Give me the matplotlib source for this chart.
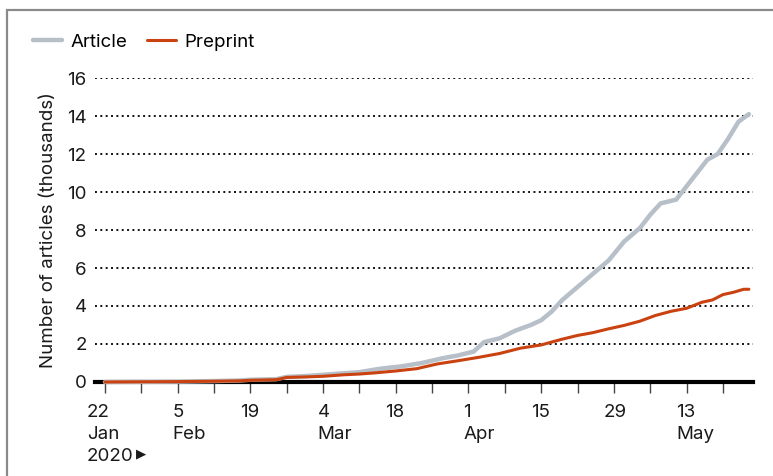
import datetime as dt

import matplotlib
matplotlib.use("Agg")
import matplotlib.pyplot as plt
import matplotlib.dates as mdates
from matplotlib.patches import Rectangle

plt.rcParams['font.family'] = ['Inter', 'DejaVu Sans']
plt.rcParams['font.size'] = 13.5

# cumulative counts (thousands)
article_dates = ['2020-01-22', '2020-01-29', '2020-02-05', '2020-02-12', '2020-02-17',
                 '2020-02-19', '2020-02-24', '2020-02-26', '2020-03-01', '2020-03-04',
                 '2020-03-08', '2020-03-11', '2020-03-15', '2020-03-19', '2020-03-23',
                 '2020-03-27', '2020-03-30', '2020-04-02', '2020-04-04', '2020-04-07',
                 '2020-04-10', '2020-04-13', '2020-04-15', '2020-04-17', '2020-04-19',
                 '2020-04-22', '2020-04-25', '2020-04-28', '2020-05-01', '2020-05-04',
                 '2020-05-06', '2020-05-08', '2020-05-11', '2020-05-13', '2020-05-15',
                 '2020-05-17', '2020-05-19', '2020-05-21', '2020-05-23', '2020-05-25']
article_vals = [0.00, 0.01, 0.02, 0.05, 0.08, 0.12, 0.15, 0.27, 0.32, 0.38,
                0.46, 0.52, 0.70, 0.82, 1.00, 1.25, 1.40, 1.60, 2.10, 2.30,
                2.70, 3.00, 3.25, 3.70, 4.30, 5.00, 5.70, 6.40, 7.40, 8.10,
                8.80, 9.40, 9.60, 10.30, 11.00, 11.70, 12.00, 12.80, 13.70, 14.10]

preprint_dates = ['2020-01-22', '2020-01-29', '2020-02-05', '2020-02-12', '2020-02-17',
                  '2020-02-19', '2020-02-24', '2020-02-26', '2020-03-01', '2020-03-04',
                  '2020-03-08', '2020-03-11', '2020-03-14', '2020-03-18', '2020-03-22',
                  '2020-03-26', '2020-03-30', '2020-04-03', '2020-04-07', '2020-04-11',
                  '2020-04-15', '2020-04-19', '2020-04-22', '2020-04-25', '2020-04-28',
                  '2020-05-01', '2020-05-04', '2020-05-07', '2020-05-10', '2020-05-13',
                  '2020-05-16', '2020-05-18', '2020-05-20', '2020-05-22', '2020-05-24',
                  '2020-05-25']
preprint_vals = [0.00, 0.01, 0.02, 0.04, 0.06, 0.09, 0.12, 0.24, 0.27, 0.30,
                 0.38, 0.42, 0.48, 0.58, 0.70, 0.95, 1.12, 1.30, 1.50, 1.78,
                 1.95, 2.25, 2.45, 2.60, 2.80, 2.98, 3.20, 3.50, 3.72, 3.88,
                 4.20, 4.32, 4.60, 4.72, 4.88, 4.88]

tick_labels = {'2020-01-22': '22\nJan\n2020', '2020-02-05': '5\nFeb',
               '2020-02-19': '19', '2020-03-04': '4\nMar', '2020-03-18': '18',
               '2020-04-01': '1\nApr', '2020-04-15': '15', '2020-04-29': '29',
               '2020-05-13': '13\nMay'}

ARTICLE_C = '#b7bfc8'
PREPRINT_C = '#c9420f'
TEXT_C = '#1a1a1a'

W, H = 773, 476
fig = plt.figure(figsize=(W / 100, H / 100), dpi=100)
ax = fig.add_axes([95 / W, 1 - 382 / H, (753 - 95) / W, (382 - 78) / H])

a_x = [dt.datetime.strptime(d, '%Y-%m-%d') for d in article_dates]
p_x = [dt.datetime.strptime(d, '%Y-%m-%d') for d in preprint_dates]

ax.plot(a_x, article_vals, color=ARTICLE_C, lw=3.2, solid_capstyle='round',
        label='Article', zorder=3, clip_on=False)
ax.plot(p_x, preprint_vals, color=PREPRINT_C, lw=2.2, solid_capstyle='round',
        label='Preprint', zorder=4, clip_on=False)

ax.set_xlim(dt.datetime(2020, 1, 20, 2), dt.datetime(2020, 5, 25, 19))
ax.set_ylim(0, 16)

for v in range(2, 17, 2):
    ax.axhline(v, color='#111111', lw=1.4, ls=(0, (1, 1.75)), zorder=1)

for s in ['top', 'right', 'left']:
    ax.spines[s].set_visible(False)
ax.spines['bottom'].set_linewidth(3)
ax.spines['bottom'].set_color('black')
ax.spines['bottom'].set_zorder(2)

ax.set_yticks(range(0, 17, 2))
ax.tick_params(axis='y', length=0, pad=6, labelsize=13.5, labelcolor=TEXT_C)

weekly = mdates.drange(dt.datetime(2020, 1, 22), dt.datetime(2020, 5, 21), dt.timedelta(days=7))
ax.set_xticks(weekly)
ax.set_xticklabels([])
ax.tick_params(axis='x', direction='out', length=8, width=1, color='#444444')

for d, lab in tick_labels.items():
    x = dt.datetime.strptime(d, '%Y-%m-%d')
    day = lab.split('\n')[0]
    dx = -13 if d == '2020-01-22' else -3.8 * len(day)
    t = ax.annotate(lab, xy=(x, 0), xycoords=('data', 'axes fraction'),
                    xytext=(dx, -15.5), textcoords='offset points',
                    ha='left', va='top', fontsize=13.5, color=TEXT_C,
                    linespacing=1.4)
    if d == '2020-01-22':
        # small arrow after the year
        ax.annotate('\u25b6', xy=(1, 0), xycoords=t, xytext=(2, 3.5),
                    textcoords='offset points', ha='left', va='bottom',
                    fontsize=9.5, color=TEXT_C, family='DejaVu Sans')

ax.set_ylabel('Number of articles (thousands)', fontsize=13.5, color=TEXT_C, labelpad=7)

ax.legend(loc='center left', bbox_to_anchor=(33 / W, 1 - 42 / H),
          bbox_transform=fig.transFigure, ncol=2, frameon=False,
          handlelength=1.55, handletextpad=0.45, columnspacing=1.05,
          borderpad=0, borderaxespad=0, fontsize=13.5)

fig.patches.append(Rectangle((7 / W, -0.2), 1.5, 1.2 - 10 / H, transform=fig.transFigure,
                             fill=False, edgecolor='#8a8a8a', lw=1.6))

fig.savefig('out.png', dpi=100)
